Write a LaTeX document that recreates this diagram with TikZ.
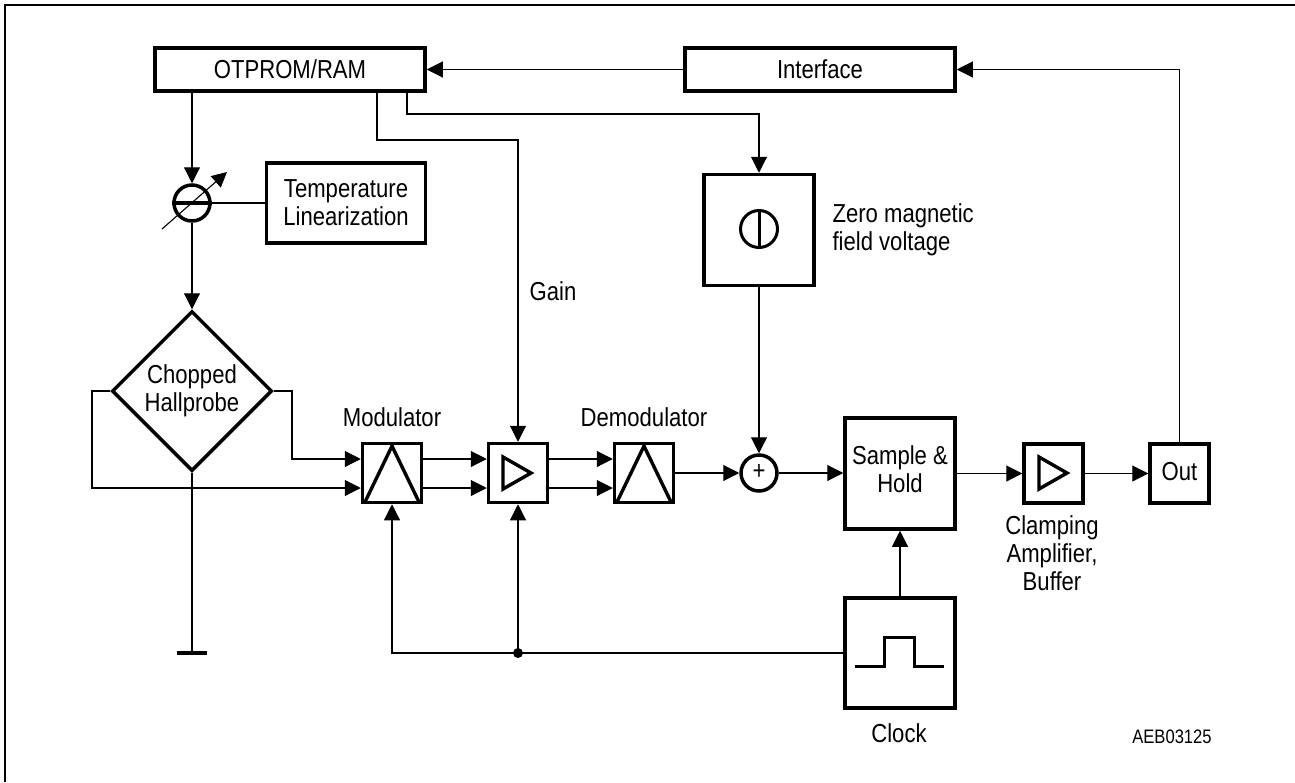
\documentclass[tikz,border=0pt]{standalone}
\usepackage{fontspec}
\setmainfont[FakeStretch=0.85]{Liberation Sans}
\usetikzlibrary{shapes.geometric,arrows.meta}
\newcommand{\labelfont}{\fontsize{26}{28}\selectfont}
\newcommand{\smallfont}{\fontsize{19.5}{22}\selectfont}
\tikzstyle{block}=[draw,rectangle,line width=3.5pt,inner sep=0pt,align=center,font=\labelfont]
\tikzstyle{probe}=[draw,diamond,aspect=1,line width=3.5pt,inner sep=0pt,align=center,font=\labelfont,minimum width=160pt,minimum height=160pt]
\tikzstyle{ring}=[draw,circle,line width=3.5pt,inner sep=0pt,minimum size=36pt,font=\labelfont]
\tikzstyle{tag}=[align=center,font=\labelfont]
\tikzstyle{sym}=[line width=3.4pt,miter limit=3]
\tikzstyle{wire}=[line width=1.1pt]
\tikzstyle{flow}=[line width=1.1pt,-{Triangle[length=16pt,width=16pt]}]

\begin{document}
\begin{tikzpicture}[x=1pt,y=-1pt]
  \useasboundingbox (0,0) rectangle (1295,782);
  \draw[line width=2pt] (5,782) -- (5,5) -- (1295,5);

  %% Blocks
  \draw (290,69.5) node[block,minimum width=270pt,minimum height=43pt] (otprom) {OTPROM/RAM};
  \draw (820,69.5) node[block,minimum width=270pt,minimum height=43pt] (interface) {Interface};
  \draw (346,203) node[block,minimum width=159pt,minimum height=80pt] (temp) {Temperature\\Linearization};
  \draw (759,230) node[block,minimum width=110pt,minimum height=111pt] (zero) {};
  \draw (192,391) node[probe] (hall) {Chopped\\Hallprobe};
  \draw (392,473) node[block,minimum width=59pt,minimum height=59pt] (mod) {};
  \draw (518,473) node[block,minimum width=59pt,minimum height=59pt] (amp) {};
  \draw (644,473) node[block,minimum width=59pt,minimum height=59pt] (demod) {};
  \draw (759,473) node[ring] (sum) {};
  \draw (900,473.5) node[block,minimum width=110pt,minimum height=111pt] (hold) {};
  \draw (900,653) node[block,minimum width=110pt,minimum height=110pt] (clock) {};
  \draw (1053.5,473.5) node[block,minimum width=59pt,minimum height=59pt] (buffer) {};
  \draw (1179.5,473.5) node[block,minimum width=59pt,minimum height=59pt] (out) {};
  \draw (192,203) node[ring] (trim) {};

  %% Labels
  \draw (392,417) node[tag] (modtag) {Modulator};
  \draw (644,417) node[tag] (demodtag) {Demodulator};
  \draw (553,291) node[tag] (gaintag) {Gain};
  \draw (829,230) node[tag,anchor=west,align=left] (zerotag) {Zero magnetic\\field voltage};
  \draw (900,469) node[tag] (holdtag) {Sample \&\\Hold};
  \draw (1179.5,472) node[tag] (outtag) {Out};
  \draw (1052,553) node[tag] (buffertag) {Clamping\\Amplifier,\\Buffer};
  \draw (899,733) node[tag] (clocktag) {Clock};
  \draw (1172,737) node[font=\smallfont] (code) {AEB03125};
  \draw (759,472) node[font=\labelfont] (plus) {+};

  %% Symbols
  \draw[line width=3.5pt] (trim.west) -- (trim.east);
  \draw[line width=1.1pt,-{Triangle[length=15pt,width=15pt]}] (162,229) -- (227,172);
  \draw[sym] (365,502) -- (392,446) -- (419,502);
  \draw[sym] (617,502) -- (644,446) -- (671,502);
  \draw[sym] (503,457) -- (503,489) -- (531,473) -- cycle;
  \draw[sym] (1039,457) -- (1039,489) -- (1067,473) -- cycle;
  \draw (759,229) node[ring,minimum size=37pt,line width=3pt] (zerosym) {};
  \draw[line width=3pt] (zerosym.north) -- (zerosym.south);
  \draw[line width=3pt] (855,666) -- (884,666) -- (884,637) -- (914,637) -- (914,666) -- (944,666);
  \draw[line width=4pt] (177,653) -- (207,653) coordinate[midway] (ground);

  %% Top of the picture
  \draw[flow] (interface) -- (otprom);
  \draw[flow] (out.north) |- (interface.east);
  \draw[flow] (otprom.south -| trim) -- (trim);
  \draw[wire] (trim) -- (temp);
  \draw[flow] (trim) -- (hall.north);
  \coordinate (gainout) at (377,91);
  \coordinate (zeroout) at (407,91);
  \draw[flow] (gainout) |- (amp.north |- 0,140) -- (amp.north);
  \draw[flow] (zeroout) |- (zero.north |- 0,114) -- (zero.north);
  \draw[flow] (zero) -- (sum);

  %% Signal path
  \coordinate (modin1) at (mod.west |- 0,459);
  \coordinate (modin2) at (mod.west |- 0,488);
  \draw[flow] (hall.east) -| (292,459) -- (modin1);
  \draw[flow] (hall.west) -| (92,488) -- (modin2);
  \draw[wire] (hall.south) -- (ground);
  \draw[flow] (mod.east |- 0,459) -- (amp.west |- 0,459);
  \draw[flow] (mod.east |- 0,488) -- (amp.west |- 0,488);
  \draw[flow] (amp.east |- 0,459) -- (demod.west |- 0,459);
  \draw[flow] (amp.east |- 0,488) -- (demod.west |- 0,488);
  \draw[flow] (demod) -- (sum);
  \draw[flow] (sum) -- (hold.west |- sum);
  \draw[flow] (hold.east |- buffer) -- (buffer);
  \draw[flow] (buffer) -- (out);

  %% Clock
  \draw[flow] (clock) -- (hold);
  \draw[flow] (clock.west) -| (mod.south);
  \draw[flow] (amp.south |- clock.west) node[circle,fill,inner sep=0pt,minimum size=10pt] (tap) {} -- (amp.south);
\end{tikzpicture}
\end{document}
